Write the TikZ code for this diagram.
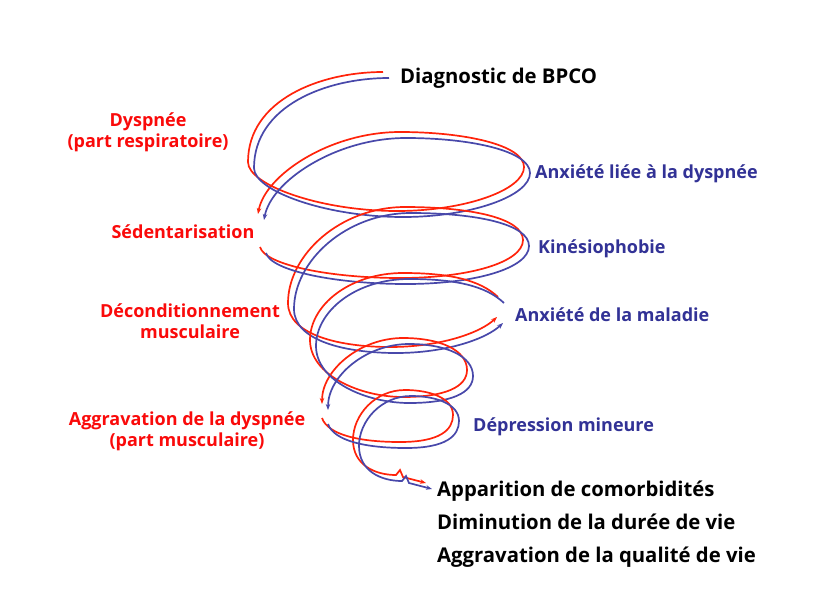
\documentclass[tikz,border=0pt]{standalone}
\usepackage{fontspec}
\setmainfont{Open Sans}
\usetikzlibrary{arrows.meta}
\definecolor{lred}{RGB}{255,35,10}
\definecolor{lblue}{RGB}{72,72,170}
\definecolor{tred}{RGB}{250,10,10}
\definecolor{tblue}{RGB}{50,50,150}
\newcommand\segA{(383,72) .. controls (320,72) and (248,100) .. (248,162)
  .. controls (248,185) and (320,211) .. (397,211)
  .. controls (465,211) and (524,190) .. (524,167)
  .. controls (524,145) and (465,132) .. (400,132)
  .. controls (330,132) and (265,175) .. (258,214)}
\newcommand\segB{(260,247) .. controls (265,265) and (330,278) .. (400,278)
  .. controls (470,278) and (523,262) .. (523,240)
  .. controls (523,218) and (470,207) .. (405,207)
  .. controls (340,207) and (288,255) .. (288,303)
  .. controls (288,335) and (340,347) .. (390,347)
  .. controls (440,347) and (480,333) .. (497,317)}
\newcommand\segC{(498,297) .. controls (480,280) and (450,273) .. (403,273)
  .. controls (350,273) and (310,305) .. (310,340)
  .. controls (310,375) and (360,397) .. (403,397)
  .. controls (445,397) and (467,387) .. (467,370)
  .. controls (467,350) and (440,338) .. (403,338)
  .. controls (360,338) and (322,370) .. (322,404)}
\newcommand\segD{(322,418) .. controls (328,435) and (360,442) .. (400,442)
  .. controls (440,442) and (453,430) .. (453,415)
  .. controls (453,398) and (430,390) .. (405,390)
  .. controls (375,390) and (353,415) .. (353,440)
  .. controls (353,465) and (375,475) .. (396,475)
  -- (400,470) -- (403,477) -- (426,483)}
\tikzset{
  rline/.style={draw=lred, line width=1.7pt, -{Stealth[length=6pt,width=4.5pt]}},
  bline/.style={draw=lblue, line width=1.7pt, -{Stealth[length=6pt,width=4.5pt]}, shift={(6,6)}},
  lab/.style={font=\bfseries\fontsize{18}{21}\selectfont, inner sep=0pt},
  rlab/.style={lab, text=tred, anchor=base},
  blab/.style={lab, text=tblue, anchor=base west},
  klab/.style={lab, text=black, anchor=base west, font=\bfseries\fontsize{20.3}{24}\selectfont},
}
\begin{document}
\begin{tikzpicture}[x=1pt, y=-1pt]
\useasboundingbox[fill=white] (0,0) rectangle (816,603);
% spiral
\draw[rline] \segA;
\draw[bline] \segA;
\draw[rline] \segB;
\draw[bline] \segB;
\draw[rline] \segC;
\draw[bline] \segC;
\draw[rline] \segD;
\draw[bline] \segD;
% labels
\node[klab] (diag) at (400,83) {Diagnostic de BPCO};
\node[rlab] (dys1) at (148,126) {Dyspnée};
\node[rlab] (dys2) at (148,147) {(part respiratoire)};
\node[rlab] (sed) at (183,238) {Sédentarisation};
\node[rlab] (dec1) at (190,317) {Déconditionnement};
\node[rlab] (dec2) at (190,338) {musculaire};
\node[rlab] (agg1) at (187,425) {Aggravation de la dyspnée};
\node[rlab] (agg2) at (187,446) {(part musculaire)};
\node[blab] (anx1) at (535,178) {Anxiété liée à la dyspnée};
\node[blab] (kin) at (538,253) {Kinésiophobie};
\node[blab] (anx2) at (515,321) {Anxiété de la maladie};
\node[blab] (dep) at (473,431) {Dépression mineure};
\node[klab] (app) at (437,496) {Apparition de comorbidités};
\node[klab] (dim) at (437,529) {Diminution de la durée de vie};
\node[klab] (aqv) at (437,562) {Aggravation de la qualité de vie};
\end{tikzpicture}
\end{document}
